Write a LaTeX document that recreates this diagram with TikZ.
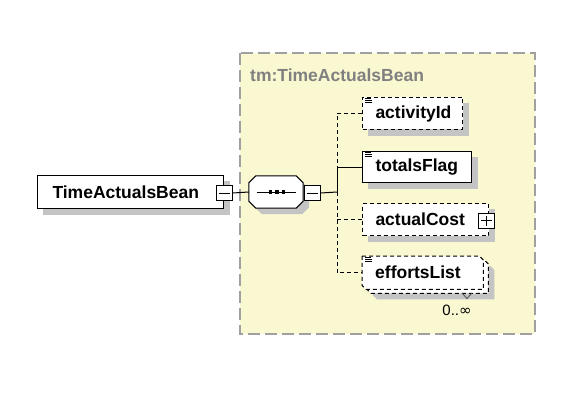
\documentclass[tikz,border=0pt]{standalone}
\usepackage{fontspec}
\setmainfont{Liberation Sans}
\newfontfamily\symfont{DejaVu Sans}
\usetikzlibrary{calc}
\definecolor{panel}{RGB}{250,248,208}
\definecolor{shadowc}{RGB}{196,196,196}
\definecolor{framec}{RGB}{160,160,160}
\definecolor{titlec}{RGB}{128,128,128}
\pgfdeclarelayer{back}
\pgfdeclarelayer{shad}
\pgfdeclarelayer{bg}
\pgfsetlayers{back,shad,bg,main}
\newcommand\effpath[2]{([shift={(#1,#2)}]eff.north west) -- ([shift={(#1-4,#2)}]eff.north east) -- ([shift={(#1,#2+4)}]eff.north east) -- ([shift={(#1,#2)}]eff.south east) -- ([shift={(#1+4,#2)}]eff.south west) -- ([shift={(#1,#2-4)}]eff.south west) -- cycle}
\newcommand\docicon[1]{\draw[line width=0.8pt] ([shift={(3,1.5)}]#1.north west) -- +(6,0) ([shift={(3,3.5)}]#1.north west) -- +(7,0) ([shift={(3,5.5)}]#1.north west) -- +(7,0);}
\newcommand\boxshadow[1]{\begin{pgfonlayer}{shad}\fill[shadowc] ([shift={(6,6)}]#1.north west) rectangle ([shift={(6,6)}]#1.south east);\end{pgfonlayer}}
\begin{document}
\begin{tikzpicture}[x=1pt,y=-1pt,
  elem/.style={draw=black, line width=1pt, fill=white,
    font=\fontsize{17.5}{20}\selectfont\bfseries, inner xsep=13pt, inner ysep=0pt,
    anchor=north west, align=left},
  optbox/.style={dash pattern=on 4pt off 3pt},
  optline/.style={line width=1pt, dash pattern=on 4pt off 3pt},
  conn/.style={line width=1pt},
  pm/.style={draw=black, line width=1pt, fill=white, minimum width=16pt, minimum height=15pt, inner sep=0pt}
]
\begin{pgfonlayer}{back}
\fill[white] (0,0) rectangle (570,393);
\draw[fill=panel, draw=framec, line width=1.5pt, dash pattern=on 12pt off 5pt] (240,53) rectangle (535,334);
\end{pgfonlayer}
\useasboundingbox (0,0) rectangle (570,393);
\node[anchor=west, text=titlec, font=\fontsize{17.5}{20}\selectfont\bfseries, inner sep=0pt] (title) at (250,75) {tm:TimeActualsBean};

% root element
\node[elem, inner xsep=15pt, text width=156pt, minimum height=33pt] (root) at (37,175) {TimeActualsBean};
\boxshadow{root}
\node[pm] (rm) at (224,193) {};
\draw[line width=1pt] ([xshift=3pt]rm.west) -- ([xshift=-3pt]rm.east);

% sequence compositor
\node[minimum width=54pt, minimum height=32pt, inner sep=0pt] (seq) at (276,192) {};
\begin{pgfonlayer}{shad}
\fill[shadowc]
  ([shift={(13,6)}]seq.north west) -- ([shift={(-1,6)}]seq.north east) -- ([shift={(6,13)}]seq.north east)
  -- ([shift={(6,-1)}]seq.south east) -- ([shift={(-1,6)}]seq.south east) -- ([shift={(13,6)}]seq.south west)
  -- ([shift={(6,-1)}]seq.south west) -- ([shift={(6,13)}]seq.north west) -- cycle;
\end{pgfonlayer}
\draw[fill=white, draw=black, line width=1pt]
  ([xshift=7pt]seq.north west) -- ([xshift=-7pt]seq.north east) -- ([yshift=-7pt]seq.north east)
  -- ([yshift=7pt]seq.south east) -- ([xshift=-7pt]seq.south east) -- ([xshift=7pt]seq.south west)
  -- ([yshift=7pt]seq.south west) -- ([yshift=-7pt]seq.north west) -- cycle;
\draw[line width=1pt] (257,192) -- (296,192);
\fill (268.5,190.2) rectangle +(3.6,3.6);
\fill (275,190.2) rectangle +(3.6,3.6);
\fill (281.5,190.2) rectangle +(3.6,3.6);
\node[pm] (sm) at (312,193) {};
\draw[line width=1pt] ([xshift=3pt]sm.west) -- ([xshift=-3pt]sm.east);

% children
\node[elem, optbox, text width=74pt, minimum height=32pt] (act) at (362,97) {activityId};
\boxshadow{act}
\docicon{act}
\node[elem, text width=83pt, minimum height=31pt] (tf) at (362,151) {totalsFlag};
\boxshadow{tf}
\docicon{tf}
\node[elem, optbox, text width=100pt, minimum height=32pt] (ac) at (362,203) {actualCost};
\boxshadow{ac}
\node[pm] (ap) at (486.5,220.5) {};
\draw[line width=1pt] ([xshift=3pt]ap.west) -- ([xshift=-3pt]ap.east) ([yshift=-3pt]ap.north) -- ([yshift=3pt]ap.south);

\node[font=\fontsize{17.5}{20}\selectfont\bfseries, inner xsep=13pt, inner ysep=0pt, anchor=north west, align=left, text width=95pt, minimum height=33pt] (eff) at (362,256) {effortsList};
\begin{pgfonlayer}{shad}
\fill[shadowc] \effpath{11}{10};
\end{pgfonlayer}
\begin{pgfonlayer}{bg}
\draw[fill=white, line width=1pt, optbox] \effpath{5}{4};
\draw[fill=white, line width=1pt, optbox] \effpath{0}{0};
\end{pgfonlayer}
\docicon{eff}
\draw[line width=0.8pt, draw=black!70] (462,293) -- (467,298.5) -- (472,293);
\node[font=\fontsize{15}{18}\selectfont, inner sep=0pt] (mult) at (457,310) {0..{\symfont ∞}};

% connectors
\coordinate (bus) at (337,192);
\coordinate (vact) at (act.west -| bus);
\coordinate (vtf) at (tf.west -| bus);
\coordinate (vac) at (ac.west -| bus);
\coordinate (veff) at (eff.west -| bus);
\draw[conn] (rm.east) -- (seq.west);
\draw[conn] (sm.east) -- (bus);
\draw[optline] (act.west) -- (vact) -- (vtf);
\draw[conn] (tf.west) -- (vtf) -- (bus);
\draw[optline] (bus) -- (veff) -- (eff.west);
\draw[optline] (vac) -- (ac.west);
\end{tikzpicture}
\end{document}
